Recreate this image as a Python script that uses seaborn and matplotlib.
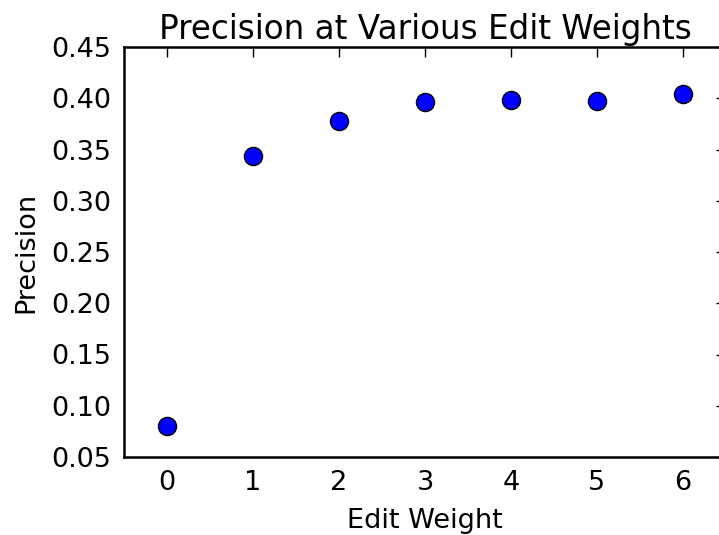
import pandas as pd
import seaborn as sns
import matplotlib.pyplot as plt

# values
edit_weights = [0, 1, 2, 3, 4, 5, 6]
precision = [0.080, 0.344, 0.378, 0.396, 0.398, 0.397, 0.404]

df = pd.DataFrame({"edit_weight": edit_weights, "precision": precision})

sns.set_style("white")
plt.rcParams["font.family"] = ["DejaVu Sans"]
plt.rcParams["text.color"] = "black"
plt.rcParams["axes.labelcolor"] = "black"

fig = plt.figure(figsize=(7.19, 5.35), dpi=100)
ax = fig.add_axes([124 / 719, 78 / 535, 602 / 719, 410 / 535])

sns.scatterplot(data=df, x="edit_weight", y="precision", ax=ax,
                color="#0000ff", edgecolor="black", linewidth=1, s=170, zorder=3)

ax.set_xlim(-0.5, 6.5)
ax.set_ylim(0.05, 0.45)
ax.set_xticks(edit_weights)
ax.set_yticks([0.05, 0.10, 0.15, 0.20, 0.25, 0.30, 0.35, 0.40, 0.45])
ax.set_yticklabels([f"{v:.2f}" for v in ax.get_yticks()])

ax.tick_params(direction="in", length=7.5, width=1, top=True, right=True,
               labelsize=19.5, pad=9, colors="black")
for sp in ax.spines.values():
    sp.set_color("black")
    sp.set_linewidth(1.8)

ax.set_title("Precision at Various Edit Weights", fontsize=23.5, pad=6, color="black")
ax.set_xlabel("Edit Weight", fontsize=19.5, labelpad=9)
ax.set_ylabel("Precision", fontsize=19.5, labelpad=9)

fig.savefig("out.png", dpi=100)
